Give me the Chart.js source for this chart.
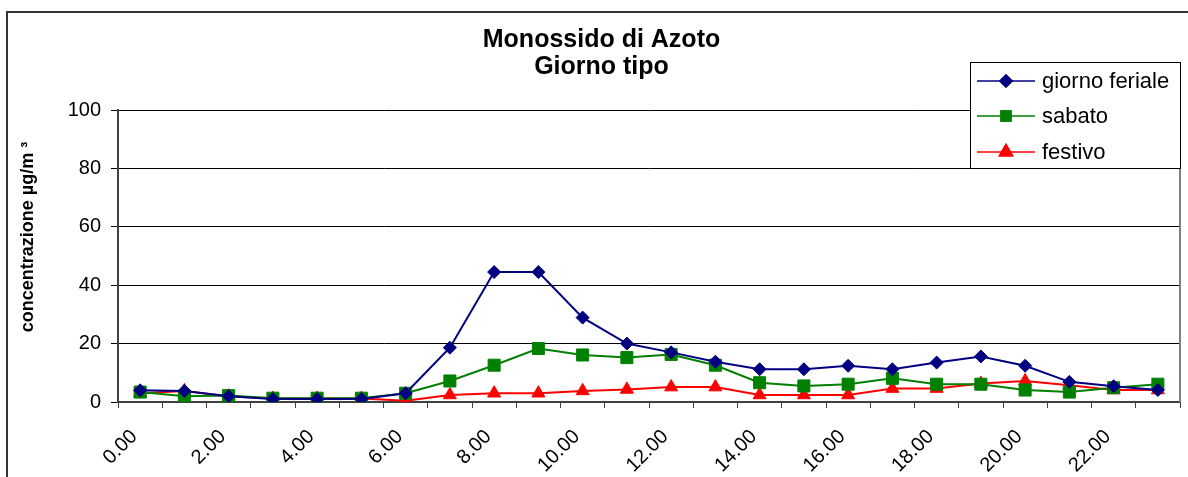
<!DOCTYPE html>
<html>
<head>
<meta charset="utf-8">
<script src="https://cdn.jsdelivr.net/npm/chart.js@4/dist/chart.umd.min.js"></script>
<style>
  html, body { margin: 0; padding: 0; background: #fff; }
  #wrap { position: relative; width: 1188px; height: 477px; }
</style>
</head>
<body>
<div id="wrap"><canvas id="c" width="1188" height="477"></canvas></div>
<script>
const categories = ["0.00","1.00","2.00","3.00","4.00","5.00","6.00","7.00","8.00","9.00","10.00","11.00",
  "12.00","13.00","14.00","15.00","16.00","17.00","18.00","19.00","20.00","21.00","22.00","23.00"];
const giornoFeriale = [4, 3.8, 2, 1, 1, 1, 3, 18.6, 44.5, 44.5, 28.9, 20, 17, 13.8, 11.2, 11.2, 12.4, 11.2, 13.5, 15.6, 12.4, 6.9, 5.4, 4.1];
const sabato = [3.4, 2, 2.2, 1.3, 1.3, 1.3, 3, 7.2, 12.6, 18.3, 16.1, 15.2, 16.3, 12.6, 6.6, 5.5, 6.1, 8.1, 6.1, 6.1, 4.1, 3.4, 4.9, 6.1];
const festivo = [3, 3.8, 2, 1.2, 1.2, 1.2, 0.4, 2.4, 3, 3, 3.8, 4.3, 5.1, 5.1, 2.4, 2.4, 2.4, 4.6, 4.6, 6.3, 7.2, 5.7, 4.1, 4.1];
const yTicks = [0, 20, 40, 60, 80, 100];
const titleLines = ["Monossido di Azoto", "Giorno tipo"];
const yTitle = "concentrazione µg/m ³";

const FONT = "'Liberation Sans', Arial, sans-serif";

const framePlugin = {
  id: 'frame',
  beforeDraw(chart) {
    const ctx = chart.ctx;
    ctx.save();
    ctx.fillStyle = '#fff';
    ctx.fillRect(0, 0, chart.width, chart.height);
    ctx.strokeStyle = '#333';
    ctx.lineWidth = 2;
    ctx.strokeRect(7, 12, 1300, 600);
    ctx.translate(28, 237);
    ctx.rotate(-Math.PI / 2);
    ctx.fillStyle = '#000';
    ctx.font = 'bold 18px ' + FONT;
    ctx.textAlign = 'center';
    ctx.textBaseline = 'middle';
    ctx.fillText(yTitle, 0, 0);
    ctx.restore();
  },
  afterDatasetsDraw(chart) {
    const ctx = chart.ctx;
    const a = chart.chartArea;
    ctx.save();
    ctx.strokeStyle = '#808080';
    ctx.lineWidth = 2;
    ctx.beginPath();
    ctx.moveTo(a.right, a.top);
    ctx.lineTo(a.right, a.bottom);
    ctx.stroke();
    ctx.restore();
  },
  afterDraw(chart) {
    const ctx = chart.ctx;
    const bx = 970.5, by = 62.5, bw = 210, bh = 106;
    ctx.save();
    ctx.fillStyle = '#fff';
    ctx.fillRect(bx, by, bw, bh);
    ctx.strokeStyle = '#000';
    ctx.lineWidth = 1;
    ctx.strokeRect(bx, by, bw, bh);
    const rows = [81, 116, 152];
    chart.data.datasets.forEach((ds, i) => {
      const y = rows[i];
      ctx.strokeStyle = ds.borderColor;
      ctx.lineWidth = 1.5;
      ctx.beginPath();
      ctx.moveTo(977, y);
      ctx.lineTo(1035, y);
      ctx.stroke();
      Chart.helpers.drawPoint(ctx, {
        pointStyle: ds.pointStyle, radius: ds.legendRadius, borderWidth: 1
      }, 1006, y);
      ctx.fillStyle = ds.pointBackgroundColor;
      ctx.strokeStyle = ds.pointBorderColor;
      ctx.fill();
      ctx.stroke();
      ctx.fillStyle = '#000';
      ctx.font = '22px ' + FONT;
      ctx.textBaseline = 'middle';
      ctx.textAlign = 'left';
      ctx.fillText(ds.label, 1042, y + 1);
    });
    ctx.restore();
  }
};

new Chart(document.getElementById('c'), {
  type: 'line',
  data: {
    labels: categories,
    datasets: [
      { label: 'giorno feriale', data: giornoFeriale, borderColor: '#000080', backgroundColor: '#000080',
        pointBackgroundColor: '#000080', pointBorderColor: '#000080', pointStyle: 'rectRot', pointRadius: 6.5,
        legendRadius: 6, borderWidth: 2, pointBorderWidth: 1 },
      { label: 'sabato', data: sabato, borderColor: '#008000', backgroundColor: '#008000',
        pointBackgroundColor: '#008000', pointBorderColor: '#008000', pointStyle: 'rect', pointRadius: 8.5,
        legendRadius: 7, borderWidth: 2, pointBorderWidth: 1 },
      { label: 'festivo', data: festivo, borderColor: '#FF0000', backgroundColor: '#FF0000',
        pointBackgroundColor: '#FF0000', pointBorderColor: '#FF0000', pointStyle: 'triangle', pointRadius: 7.5,
        legendRadius: 7.5, borderWidth: 2, pointBorderWidth: 1 }
    ]
  },
  options: {
    responsive: false,
    animation: false,
    devicePixelRatio: 1,
    layout: { autoPadding: false, padding: { left: 23, right: 8, top: 0, bottom: 0 } },
    plugins: {
      legend: { display: false },
      tooltip: { enabled: false },
      title: {
        display: true,
        text: titleLines,
        color: '#000',
        font: { family: FONT, size: 25, weight: 'bold', lineHeight: 1.08 },
        padding: { top: 27, bottom: 29 }
      }
    },
    elements: { line: { tension: 0 } },
    scales: {
      x: {
        type: 'category',
        offset: true,
        grid: { display: true, drawOnChartArea: false, offset: true, tickLength: 6, color: '#404040', lineWidth: 1 },
        border: { display: true, color: '#404040', width: 2 },
        ticks: {
          autoSkip: false, maxRotation: 45, minRotation: 45, padding: 17, labelOffset: -6,
          color: '#000', font: { family: FONT, size: 20 },
          callback: function(v, i) { return i % 2 === 0 ? this.getLabelForValue(v) : ''; }
        },
        afterFit(scale) { scale.height = 75; scale.paddingRight = 0; scale.paddingLeft = 0; }
      },
      y: {
        min: 0, max: 100,
        afterBuildTicks(scale) { scale.ticks = yTicks.map(v => ({ value: v })); },
        grid: { color: '#000', lineWidth: 1, tickLength: 7, drawTicks: true },
        border: { display: true, color: '#404040', width: 2 },
        ticks: { color: '#000', font: { family: FONT, size: 20 }, padding: 10 },
        title: { display: false },
        afterFit(scale) { scale.width = 95; }
      }
    }
  },
  plugins: [framePlugin]
});
</script>
</body>
</html>
